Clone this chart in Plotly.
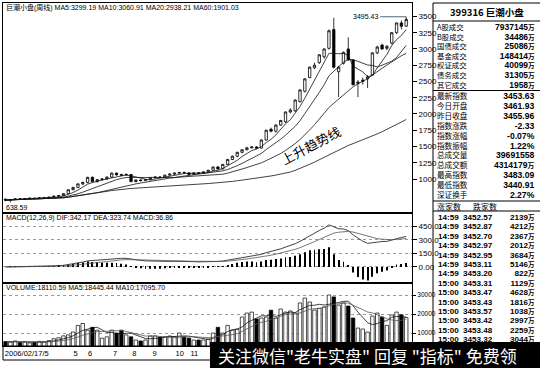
import plotly.graph_objects as go
import pandas as pd

W, H = 540, 368

# ---------------- data (weekly, 2006/02/17 onward) ----------------
WEEK = list(range(84))
OPEN = [690, 675, 685, 695, 690, 698, 705, 700, 710, 712,
        720, 735, 745, 775, 835, 870, 925, 945, 1025, 960,
        990, 1000, 1030, 1090, 1065, 1060, 1070, 960, 985, 975,
        990, 1020, 1030, 1025, 1060, 1075, 1090, 1100, 1095, 1070,
        1095, 1085, 1110, 1135, 1185, 1155, 1225, 1300, 1350, 1410,
        1450, 1480, 1492, 1475, 1600, 1765, 1735, 1830, 1880, 2030,
        2050, 2190, 2350, 2560, 2710, 2790, 2880, 3010, 3300, 2650,
        2780, 3000, 2830, 2470, 2500, 2540, 2600, 2940, 3060, 3010,
        3090, 3250, 3400, 3350]
HIGH = [700, 690, 700, 705, 700, 710, 712, 715, 720, 725,
        740, 750, 780, 840, 880, 930, 960, 1035, 1040, 1000,
        1010, 1040, 1100, 1100, 1080, 1085, 1075, 990, 995, 1000,
        1030, 1040, 1045, 1065, 1080, 1095, 1110, 1115, 1100, 1100,
        1105, 1115, 1140, 1190, 1200, 1230, 1310, 1360, 1420, 1460,
        1495, 1500, 1505, 1610, 1760, 1790, 1840, 1910, 2040, 2090,
        2225, 2380, 2550, 2730, 2790, 2920, 3010, 3300, 3480, 2740,
        2960, 3180, 2840, 2520, 2560, 2600, 2950, 3050, 3080, 3060,
        3260, 3410, 3440, 3495.43]
LOW = [660, 638.59, 675, 680, 680, 690, 695, 695, 700, 705,
       715, 725, 740, 770, 825, 860, 905, 935, 950, 945,
       975, 990, 1020, 1050, 1040, 1050, 950, 950, 965, 970,
       985, 1010, 1015, 1020, 1050, 1060, 1080, 1085, 1060, 1065,
       1075, 1080, 1100, 1130, 1140, 1150, 1215, 1290, 1335, 1395,
       1440, 1470, 1465, 1470, 1590, 1720, 1715, 1820, 1860, 2010,
       2030, 2175, 2330, 2550, 2690, 2770, 2850, 2990, 2700, 2260,
       2760, 2820, 2440, 2260, 2450, 2400, 2590, 2920, 2990, 2980,
       3070, 3230, 3300, 3340]
CLOSE = [675, 685, 695, 690, 698, 705, 700, 710, 712, 720,
         735, 745, 775, 835, 870, 925, 945, 1025, 960, 990,
         1000, 1030, 1090, 1065, 1060, 1070, 960, 985, 975, 990,
         1020, 1030, 1025, 1060, 1075, 1090, 1100, 1095, 1070, 1095,
         1085, 1110, 1135, 1185, 1155, 1225, 1300, 1350, 1410, 1450,
         1480, 1492, 1475, 1600, 1750, 1735, 1830, 1900, 2030, 2060,
         2215, 2370, 2540, 2720, 2750, 2910, 3000, 3280, 2720, 2720,
         2950, 2830, 2450, 2490, 2520, 2570, 2940, 3030, 3000, 3040,
         3250, 3400, 3350, 3453.63]
VOLUME = [5500, 5200, 5800, 5000, 5300, 4800, 5100, 5600, 5400, 6000,
          7000, 7500, 8500, 9000, 10500, 14000, 15000, 11500, 13000, 11500,
          7300, 8000, 11500, 10000, 11500, 9000, 8000, 6300, 5800, 6300,
          8400, 8400, 7900, 8000, 8400, 8000, 10000, 8000, 7300, 6300,
          6300, 6300, 6800, 10000, 13000, 10000, 14000, 11500, 12000, 18400,
          20500, 21000, 17400, 17900, 18400, 22000, 17900, 22600, 21000, 21600,
          20500, 25800, 28400, 26300, 22100, 23000, 23700, 30000, 29000, 24700,
          25800, 24200, 17900, 12600, 12100, 10500, 18900, 20500, 18400, 14000,
          19500, 21000, 19600, 18110.59]

PRICE_TICKS = [1000, 1250, 1500, 1750, 2000, 2250, 2500, 2750, 3000, 3250, 3500]
PRICE_GRID = [1000, 1500, 2000, 2500, 3000, 3500]
MACD_TICKS = [0, 150, 300, 450]
MACD_TICK_TEXT = ["0.00", "150.0", "300.0", "450.0"]
VOL_TICKS = [10000, 20000, 30000]
X_TICK_POS = [4.4, 14.5, 17.5, 22.7, 26.7, 30.9, 36.1, 39.1]
X_TICK_TEXT = ["2006/02/17/5", "5", "6", "7", "8", "9", "10", "11"]

TITLE_MAIN = "巨潮小盘(周线) MA5:3299.19 MA10:3060.91 MA20:2938.21 MA60:1901.03"
TITLE_MACD = "MACD(12,26,9) DIF:342.17 DEA:323.74 MACD:36.86"
TITLE_VOL = "VOLUME:18110.59 MA5:18445.44 MA10:17095.70"

TABLE_TITLE = "399316 巨潮小盘"
T1_LABELS = ["A股成交", "B股成交", "国债成交", "基金成交", "权证成交", "债务成交", "其它成交"]
T1_VALUES = ["7937145万", "34486万", "25086万", "148414万", "40099万", "31305万", "1958万"]
T2_LABELS = ["最新指数", "今日开盘", "昨日收盘", "指数涨跌", "指数涨幅", "指数振幅",
             "总成交量", "总成交额", "最高指数", "最低指数", "深证换手"]
T2_VALUES = ["3453.63", "3461.93", "3455.96", "-2.33", "-0.07%", "1.22%",
             "39691558", "4314179万", "3483.09", "3440.91", "2.27%"]
TICK_TIMES = ["14:59"] * 7 + ["15:00"] * 7
TICK_PRICES = ["3452.57", "3452.87", "3452.70", "3452.97", "3452.95", "3453.11", "3453.20",
               "3453.31", "3453.47", "3453.43", "3453.57", "3453.42", "3453.48", "3453.32"]
TICK_VOLS = ["2139万", "4212万", "2367万", "2012万", "3684万", "5146万", "822万",
             "1129万", "4628万", "1816万", "1038万", "2997万", "2259万", "3044万"]

# ---------------- indicators derived from the data ----------------
c = pd.Series(CLOSE, dtype=float)
v = pd.Series(VOLUME, dtype=float)
MA = {n: c.rolling(n, min_periods=1).mean() for n in (5, 10, 20, 60)}
ema12 = c.ewm(span=12, adjust=False).mean()
ema26 = c.ewm(span=26, adjust=False).mean()
DIF = ema12 - ema26
DEA = DIF.ewm(span=9, adjust=False).mean()
HIST = 2 * (DIF - DEA)
VMA5 = v.rolling(5, min_periods=1).mean()
VMA10 = v.rolling(10, min_periods=1).mean()

UP = [cl >= op for op, cl in zip(OPEN, CLOSE)]
VCOL = ["white" if u else "black" for u in UP]


def px_x(p):
    return p / W


def px_y(p):
    return 1 - p / H


fig = go.Figure()

# main panel
for n in (60, 20, 10, 5):
    fig.add_trace(go.Scatter(x=WEEK, y=MA[n], mode="lines",
                             line=dict(color="#111", width=0.8),
                             xaxis="x", yaxis="y", hoverinfo="skip"))
fig.add_trace(go.Candlestick(
    x=WEEK, open=OPEN, high=HIGH, low=LOW, close=CLOSE,
    increasing=dict(line=dict(color="black", width=0.8), fillcolor="white"),
    decreasing=dict(line=dict(color="black", width=0.8), fillcolor="black"),
    whiskerwidth=0, xaxis="x", yaxis="y"))

# MACD panel
fig.add_trace(go.Bar(x=WEEK, y=HIST, width=0.18, marker=dict(color="black", line=dict(width=0)),
                     xaxis="x2", yaxis="y2"))
fig.add_trace(go.Scatter(x=WEEK, y=DIF, mode="lines", line=dict(color="#111", width=0.8),
                         xaxis="x2", yaxis="y2"))
fig.add_trace(go.Scatter(x=WEEK, y=DEA, mode="lines", line=dict(color="#555", width=0.8),
                         xaxis="x2", yaxis="y2"))

# volume panel
fig.add_trace(go.Bar(x=WEEK, y=VOLUME, width=0.72,
                     marker=dict(color=VCOL, line=dict(color="black", width=0.7)),
                     xaxis="x3", yaxis="y3"))
fig.add_trace(go.Scatter(x=WEEK, y=VMA5, mode="lines", line=dict(color="#111", width=0.8),
                         xaxis="x3", yaxis="y3"))
fig.add_trace(go.Scatter(x=WEEK, y=VMA10, mode="lines", line=dict(color="#555", width=0.8),
                         xaxis="x3", yaxis="y3"))

XR = [-0.52, 84.2]
XD = [px_x(3), px_x(412)]
common_x = dict(domain=XD, range=XR, showline=True, mirror=True, linecolor="black",
                linewidth=1, showgrid=False, zeroline=False, fixedrange=True)
common_y = dict(side="right", showline=True, mirror=True, linecolor="black", linewidth=1,
                ticks="outside", ticklen=4, tickcolor="black", zeroline=False,
                tickfont=dict(size=8, color="black", family="Liberation Sans"),
                gridcolor="#9a9a9a", griddash="dot", gridwidth=1)
vol_y = dict(common_y)
vol_y["tickfont"] = dict(size=6.5, color="black", family="Liberation Sans")
vol_y["ticklen"] = 3

fig.update_layout(
    width=W, height=H, margin=dict(l=0, r=0, t=0, b=0),
    paper_bgcolor="white", plot_bgcolor="white", showlegend=False,
    font=dict(family="Liberation Sans, Noto Sans CJK SC", color="black"),
    xaxis=dict(**common_x, anchor="y", showticklabels=False, ticks="",
               rangeslider=dict(visible=False)),
    xaxis2=dict(**common_x, anchor="y2", showticklabels=False, ticks=""),
    xaxis3=dict(**common_x, anchor="y3", tickvals=X_TICK_POS, ticktext=X_TICK_TEXT,
                ticks="", tickangle=0,
                tickfont=dict(size=7.5, color="black", family="Liberation Sans")),
    yaxis=dict(**common_y, domain=[px_y(213), px_y(3)], range=[477, 3707], anchor="x",
               tickvals=PRICE_TICKS, showgrid=False),
    yaxis4=dict(overlaying="y", anchor="x", side="right", range=[477, 3707],
                tickvals=PRICE_GRID, showticklabels=False, ticks="", showgrid=True,
                gridcolor="#9a9a9a", griddash="dot", zeroline=False, showline=False),
    yaxis2=dict(**common_y, domain=[px_y(283), px_y(213)], range=[-178, 600], anchor="x2",
                tickvals=MACD_TICKS, ticktext=MACD_TICK_TEXT, showgrid=True),
    yaxis3=dict(**vol_y, domain=[px_y(346), px_y(283)], range=[3158, 36316], anchor="x3",
                tickvals=VOL_TICKS, tickformat="d", showgrid=True),
    bargap=0.2,
)

ann = []
CJK = "Noto Sans CJK SC"
LAT = "Liberation Sans"


def text(xp, yp, s, size=9, anchor="left", color="black", weight="normal", family=CJK, **kw):
    d = dict(x=px_x(xp), y=px_y(yp), xref="paper", yref="paper", text=s,
             showarrow=False, xanchor=anchor, yanchor="middle",
             font=dict(size=size, color=color, family=family, weight=weight))
    d.update(kw)
    ann.append(d)


def num(s, size, unit_size):
    # bold digits in a Latin face, the unit 万 in a (smaller) CJK face
    out = s
    if s.endswith("万"):
        out = s[:-1] + ("<span style='font-family:Noto Sans CJK SC;font-size:%gpx'>万</span>"
                        % unit_size)
    return "<span style='font-size:%gpx'>%s</span>" % (size, out)


def block(xp, y_first, step, items, anchor="left", inner=None, weight="normal", family=CJK):
    """one multi-line text block; line pitch = 1.3 x base font size"""
    base = step / 1.3
    unit = step / 1.45
    lines = [num(s, inner, unit) if inner else s for s in items]
    y_mid = y_first + step * (len(items) - 1) / 2
    text(xp, y_mid, "<br>".join(lines), size=base, anchor=anchor, weight=weight,
         family=family, align=anchor if anchor != "center" else "center")


# panel headers
text(4, 8, TITLE_MAIN, size=7, family=LAT + ", " + CJK)
text(4, 218, TITLE_MACD, size=7, family=LAT)
text(4, 287, TITLE_VOL, size=7, family=LAT)

# high / low markers
ann.append(dict(x=WEEK[HIGH.index(max(HIGH))], y=max(HIGH), xref="x", yref="y",
                text="%.2f" % max(HIGH), showarrow=True, arrowhead=0, arrowwidth=0.8,
                ax=-26, ay=0, xanchor="right", font=dict(size=7, family=LAT)))
ann.append(dict(x=-0.4, y=min(LOW), xref="x", yref="y", text="%.2f" % min(LOW),
                showarrow=False, xanchor="left", yanchor="top",
                font=dict(size=7, family=LAT)))

# trend-line label
text(310, 145, "上升趋势线", size=13, anchor="center", textangle=-28)

# right-hand table
text(487, 12, TABLE_TITLE, size=9.5, anchor="center", weight="bold")
block(435, 27, 9.6, T1_LABELS)
block(537, 27, 9.6, T1_VALUES, anchor="right", inner=8.5, weight="bold", family=LAT)
block(435, 96, 9.9, T2_LABELS)
block(537, 96, 9.9, T2_VALUES, anchor="right", inner=8.6, weight="bold", family=LAT)
text(435, 206, "涨家数", size=8)
text(485, 206, "跌家数", size=8, anchor="center")
block(435.5, 217, 9.4, TICK_TIMES, anchor="left", inner=8.1, weight="bold", family=LAT)
block(478, 217, 9.4, TICK_PRICES, anchor="center", inner=8.1, weight="bold", family=LAT)
block(537, 217, 9.4, TICK_VOLS, anchor="right", inner=8.1, weight="bold", family=LAT)

# watermark banner
text(216, 355, '关注微信"老牛实盘" 回复 "指标" 免费领', size=17, color="white")

shapes = []


def line(x0, y0, x1, y1, w=1, color="black"):
    shapes.append(dict(type="line", xref="paper", yref="paper", x0=px_x(x0), y0=px_y(y0),
                       x1=px_x(x1), y1=px_y(y1), line=dict(color=color, width=w)))


line(433, 3, 433, 368)
line(433, 3, 540, 3)
line(433, 21, 540, 21)
line(433, 90.5, 540, 90.5)
line(433, 201, 540, 201)
line(433, 211, 540, 211)
shapes.append(dict(type="rect", xref="paper", yref="paper", x0=px_x(3), x1=px_x(412),
                   y0=px_y(360), y1=px_y(346), line=dict(color="black", width=1)))
shapes.append(dict(type="rect", xref="paper", yref="paper", x0=px_x(210), x1=1.0,
                   y0=0, y1=px_y(342), fillcolor="black", line=dict(width=0), layer="above"))

fig.update_layout(annotations=ann, shapes=shapes)
fig.write_html("out.html", config={"displayModeBar": False},
               post_script="document.body.style.margin='0';document.body.style.overflow='hidden';")
